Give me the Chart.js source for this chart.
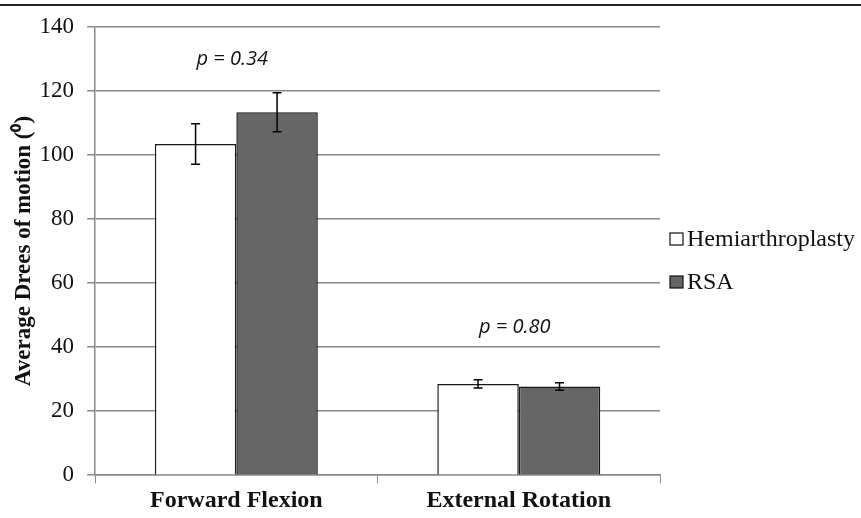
<!DOCTYPE html>
<html>
<head>
<meta charset="utf-8">
<script src="https://cdn.jsdelivr.net/npm/chart.js@4.4.0/dist/chart.umd.min.js"></script>
<style>
  html, body { margin: 0; padding: 0; background: #fff; }
  #wrap { width: 861px; height: 518px; }
</style>
</head>
<body>
<div id="wrap"><canvas id="chart" width="861" height="518"></canvas></div>
<script>
// data
const categories = ["Forward Flexion", "External Rotation"];
const hemiValues = [103.4, 28.5];
const hemiErrors = [6.3, 1.3];
const rsaValues = [113.3, 27.7];
const rsaErrors = [6.1, 1.2];
const pLabels = ["p = 0.34", "p = 0.80"];
const pLabelValues = [129.7, 46.1];
const yTicks = [0, 20, 40, 60, 80, 100, 120, 140];

const serif = "'Liberation Serif', 'Times New Roman', serif";

// draws error bars, p-value text, legend and the top rule
const extrasPlugin = {
    id: "extras",
    afterDatasetsDraw(chart) {
        const ctx = chart.ctx;
        const yScale = chart.scales.y;
        const xScale = chart.scales.x;
        const errs = [hemiErrors, rsaErrors];

        ctx.save();
        ctx.strokeStyle = "#000";
        ctx.lineWidth = 1.5;
        chart.data.datasets.forEach((ds, di) => {
            const meta = chart.getDatasetMeta(di);
            meta.data.forEach((bar, i) => {
                const v = ds.data[i];
                const e = errs[di][i];
                const top = yScale.getPixelForValue(v + e);
                const bot = yScale.getPixelForValue(v - e);
                const x = bar.x;
                ctx.beginPath();
                ctx.moveTo(x, top);
                ctx.lineTo(x, bot);
                ctx.moveTo(x - 4.5, top);
                ctx.lineTo(x + 4.5, top);
                ctx.moveTo(x - 4.5, bot);
                ctx.lineTo(x + 4.5, bot);
                ctx.stroke();
            });
        });

        // p values
        ctx.fillStyle = "#111";
        ctx.font = "italic 20px 'Open Sans', sans-serif";
        ctx.textAlign = "center";
        ctx.textBaseline = "middle";
        pLabels.forEach((txt, i) => {
            ctx.fillText(txt, xScale.getPixelForValue(i) - 4, yScale.getPixelForValue(pLabelValues[i]));
        });

        // legend (drawn by hand so the box sits tight against the text)
        const legendX = chart.chartArea.right + 10;
        const legendY = [239, 282];
        ctx.font = "24px " + serif;
        ctx.textAlign = "left";
        ctx.textBaseline = "middle";
        ctx.lineWidth = 1.2;
        chart.data.datasets.forEach((ds, di) => {
            const y = legendY[di];
            ctx.fillStyle = ds.backgroundColor;
            ctx.fillRect(legendX, y - 6, 13, 12);
            ctx.strokeStyle = "#111";
            ctx.strokeRect(legendX, y - 6, 13, 12);
            ctx.fillStyle = "#111";
            ctx.fillText(ds.label, legendX + 17, y + 1);
        });

        // top rule
        ctx.strokeStyle = "#222";
        ctx.lineWidth = 2;
        ctx.beginPath();
        ctx.moveTo(0, 5);
        ctx.lineTo(chart.width, 5);
        ctx.stroke();
        ctx.restore();
    }
};

const ctx = document.getElementById("chart").getContext("2d");
new Chart(ctx, {
    type: "bar",
    data: {
        labels: categories,
        datasets: [
            {
                label: "Hemiarthroplasty",
                data: hemiValues,
                backgroundColor: "#ffffff",
                borderColor: "#1a1a1a",
                borderWidth: 1.5
            },
            {
                label: "RSA",
                data: rsaValues,
                backgroundColor: "#666666",
                borderColor: "#1a1a1a",
                borderWidth: 1.5
            }
        ]
    },
    options: {
        responsive: false,
        animation: false,
        devicePixelRatio: 1,
        layout: { padding: { top: 11, right: 201, left: 10, bottom: 0 } },
        datasets: {
            bar: { categoryPercentage: 0.577, barPercentage: 1.0 }
        },
        plugins: {
            legend: { display: false },
            tooltip: { enabled: false }
        },
        scales: {
            x: {
                grid: {
                    display: true,
                    drawOnChartArea: false,
                    offset: true,
                    color: "#888",
                    tickLength: 8
                },
                border: { color: "#888", width: 1.5 },
                ticks: {
                    color: "#111",
                    padding: 3,
                    font: { family: serif, size: 24, weight: "bold" }
                }
            },
            y: {
                min: 0,
                max: 140,
                afterBuildTicks(axis) {
                    axis.ticks = yTicks.map(v => ({ value: v }));
                },
                grid: { color: "#888", lineWidth: 1.5, tickLength: 8 },
                border: { color: "#888", width: 1.5 },
                ticks: {
                    color: "#111",
                    padding: 13,
                    font: { family: serif, size: 23 }
                },
                title: {
                    display: true,
                    text: "Average Drees of motion (\u2070)",
                    color: "#111",
                    padding: { top: 0, bottom: -11 },
                    font: { family: serif, size: 23, weight: "bold" }
                }
            }
        }
    },
    plugins: [extrasPlugin]
});
</script>
</body>
</html>
